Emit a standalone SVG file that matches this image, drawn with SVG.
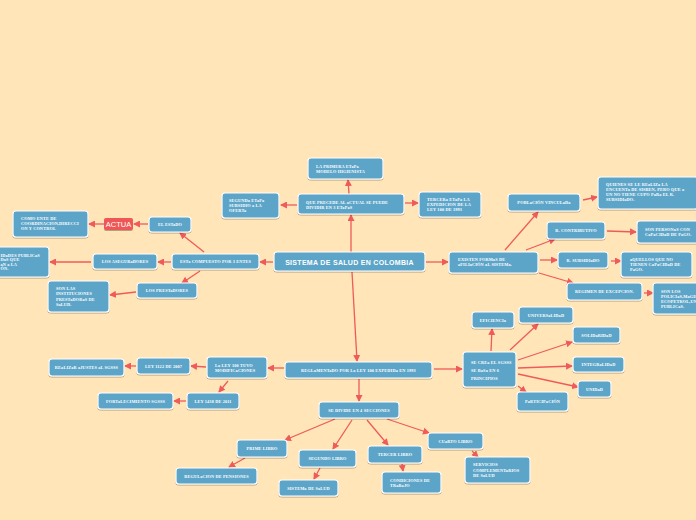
<svg xmlns="http://www.w3.org/2000/svg" width="696" height="520" viewBox="0 0 696 520">
<defs>
<filter id="sh" x="-10%" y="-20%" width="120%" height="150%"><feDropShadow dx="0" dy="1" stdDeviation="0.7" flood-color="#000" flood-opacity="0.3"/></filter>
<marker id="ah" markerWidth="7" markerHeight="7" refX="6" refY="3.5" orient="auto" markerUnits="userSpaceOnUse"><path d="M0,0 L7,3.5 L0,7 z" fill="#ef5a5a"/></marker>
<style>
.n rect{fill:#5ca5c8;stroke:#fff;stroke-width:1.2;filter:url(#sh)}
.n text{font-family:"Liberation Serif","DejaVu Serif",serif;font-weight:bold;font-size:4.3px;fill:#fff;letter-spacing:0.15px}
.c{text-anchor:middle}
#central text{font-family:"Liberation Sans",Arial,sans-serif;font-size:7px;letter-spacing:0.3px}
#actua rect{fill:#ef5656;stroke:none}
#actua text{font-family:"Liberation Sans",Arial,sans-serif;font-weight:normal;font-size:7.5px;letter-spacing:0}
#conn line{stroke:#ef5a5a;stroke-width:1.3;marker-end:url(#ah)}
</style>
</defs>
<rect width="696" height="520" fill="#ffe5b8"/>
<g id="conn">
<line x1="351" y1="252" x2="351" y2="215"/>
<line x1="349" y1="194" x2="348" y2="180"/>
<line x1="297" y1="205" x2="281" y2="205"/>
<line x1="405" y1="203" x2="418" y2="203"/>
<line x1="273" y1="262" x2="260" y2="262"/>
<line x1="204" y1="252" x2="180" y2="233"/>
<line x1="148" y1="224" x2="134" y2="224"/>
<line x1="104" y1="224" x2="89" y2="224"/>
<line x1="171" y1="262" x2="158" y2="262"/>
<line x1="91" y1="262" x2="50" y2="262"/>
<line x1="200" y1="271" x2="182" y2="283"/>
<line x1="136" y1="292" x2="110" y2="295"/>
<line x1="426" y1="262" x2="448" y2="262"/>
<line x1="505" y1="250" x2="538" y2="212"/>
<line x1="583" y1="200" x2="597" y2="197"/>
<line x1="526" y1="250" x2="555" y2="239"/>
<line x1="607" y1="231" x2="636" y2="232"/>
<line x1="540" y1="260" x2="557" y2="260"/>
<line x1="611" y1="261" x2="621" y2="261"/>
<line x1="539" y1="273" x2="573" y2="283"/>
<line x1="644" y1="293" x2="653" y2="293"/>
<line x1="352" y1="272" x2="357" y2="361"/>
<line x1="359" y1="379" x2="359" y2="401"/>
<line x1="284" y1="368" x2="268" y2="368"/>
<line x1="434" y1="369" x2="462" y2="369"/>
<line x1="206" y1="367" x2="191" y2="366"/>
<line x1="136" y1="366" x2="125" y2="366"/>
<line x1="228" y1="381" x2="219" y2="392"/>
<line x1="186" y1="401" x2="174" y2="401"/>
<line x1="335" y1="419" x2="285" y2="440"/>
<line x1="352" y1="420" x2="333" y2="449"/>
<line x1="367" y1="420" x2="388" y2="445"/>
<line x1="387" y1="419" x2="429" y2="433"/>
<line x1="245" y1="458" x2="229" y2="467"/>
<line x1="320" y1="468" x2="314" y2="479"/>
<line x1="402" y1="464" x2="403" y2="471"/>
<line x1="472" y1="451" x2="478" y2="457"/>
<line x1="491" y1="351" x2="492" y2="329"/>
<line x1="510" y1="350" x2="538" y2="324"/>
<line x1="518" y1="360" x2="572" y2="342"/>
<line x1="518" y1="368" x2="572" y2="366"/>
<line x1="518" y1="374" x2="578" y2="387"/>
<line x1="518" y1="386" x2="526" y2="392"/>
</g>
<g id="central" class="n"><rect x="274" y="252" width="151" height="19" rx="3"/><text x="349.5" y="264.5" class="c">SISTEMA DE SALUD EN COLOMBIA</text></g>
<g id="primera" class="n"><rect x="308" y="158" width="75" height="21" rx="3"/><text x="316" y="167.5">LA PRIMERA ETaPa</text><text x="316" y="173">MODELO HIGIENISTA</text></g>
<g id="precede" class="n"><rect x="298" y="194" width="106" height="20" rx="3"/><text x="306" y="203.5">QUE PRECEDE AL aCTUAL SE PUEDE</text><text x="306" y="208.5">DIVIDIR EN 3 ETaPaS</text></g>
<g id="segunda" class="n"><rect x="222" y="193" width="57" height="25" rx="3"/><text x="229" y="201.5">SEGUNDa ETaPa</text><text x="229" y="206.5">SUBSIDIO a LA</text><text x="229" y="211.5">OFERTa</text></g>
<g id="tercera" class="n"><rect x="419" y="192" width="62" height="25" rx="3"/><text x="427" y="200.5">TERCERa ETaPa LA</text><text x="427" y="205.5">EXPEDICION DE LA</text><text x="427" y="210.5">LEY 100 DE 1993</text></g>
<g id="estado" class="n"><rect x="149" y="217" width="42" height="15" rx="3"/><text x="170" y="226" class="c">EL ESTaDO</text></g>
<g id="actua" class="n"><rect x="104" y="218" width="29" height="12" rx="2"/><text x="118.5" y="226.8" class="c">ACTUA</text></g>
<g id="comoente" class="n"><rect x="13" y="211" width="75" height="26" rx="3"/><text x="21" y="219.5">COMO ENTE DE</text><text x="21" y="224.5">COORDINACION,DIRECCI</text><text x="21" y="229.5">ON Y CONTROL</text></g>
<g id="compuesto" class="n"><rect x="172" y="254" width="87" height="15" rx="3"/><text x="215.5" y="263" class="c">ESTa COMPUESTO POR 3 ENTES</text></g>
<g id="aseguradores" class="n"><rect x="93" y="254" width="64" height="15" rx="3"/><text x="125" y="263" class="c">LOS ASEGURaDORES</text></g>
<g id="entidades" class="n"><rect x="-30" y="247" width="79" height="30" rx="3"/><text x="0.5" y="256.5">IDaDES PUBLICaS</text><text x="0.5" y="261">DaS QUE</text><text x="0.5" y="265.5">aN a LA</text><text x="0.5" y="270">ÓN.</text></g>
<g id="prestadores" class="n"><rect x="137" y="283" width="60" height="15" rx="3"/><text x="167" y="292" class="c">LOS  PRESTaDORES</text></g>
<g id="sonlas" class="n"><rect x="48" y="281" width="61" height="31" rx="3"/><text x="56" y="290">SON LAS</text><text x="56" y="295">INSTITUCIONES</text><text x="56" y="300.5">PRESTaDORaS DE</text><text x="56" y="305.5">SaLUD.</text></g>
<g id="existen" class="n"><rect x="449" y="252" width="89" height="21" rx="3"/><text x="458" y="260.5">EXISTEN  FORMaS DE</text><text x="458" y="266">aFILIaCIÓN aL SISTEMa.</text></g>
<g id="vinculada" class="n"><rect x="508" y="194" width="72" height="17" rx="3"/><text x="544" y="204" class="c">POBLaCIÓN VINCULaDa</text></g>
<g id="quienes" class="n"><rect x="598" y="177" width="100" height="32" rx="3"/><text x="606" y="186">QUIENES SE LE REaLIZa LA</text><text x="606" y="191">ENCUENTa DE SISBEN, PERO QUE a</text><text x="606" y="196">UN NO TIENE CUPO PaRa EL R.</text><text x="606" y="201">SUBSIDIaDO.</text></g>
<g id="contributivo" class="n"><rect x="547" y="222" width="58" height="17" rx="3"/><text x="576" y="232" class="c">R. CONTRIBUTIVO</text></g>
<g id="personas" class="n"><rect x="637" y="221" width="62" height="22" rx="3"/><text x="645" y="230.5">SON PERSONaS CON</text><text x="645" y="235.5">CaPaCIDaD DE PaGO.</text></g>
<g id="subsidiado" class="n"><rect x="558" y="252" width="50" height="16" rx="3"/><text x="583" y="261.5" class="c">R. SUBSIDIaDO</text></g>
<g id="aquellos" class="n"><rect x="621" y="252" width="71" height="25" rx="3"/><text x="630" y="260.5">aQUELLOS QUE NO</text><text x="630" y="265.5">TIENEN CaPaCIDaD DE</text><text x="630" y="270.5">PaGO.</text></g>
<g id="regimen" class="n"><rect x="567" y="283" width="75" height="17" rx="3"/><text x="604.5" y="293" class="c">REGIMEN DE EXCEPCION.</text></g>
<g id="sonlos" class="n"><rect x="653" y="283" width="50" height="31" rx="3"/><text x="661" y="292.5">SON LOS</text><text x="661" y="297.5">POLICIaS,MaGISTERIO,</text><text x="661" y="302.5">ECOPETROL,UNIVERSIDaDES</text><text x="661" y="307.5">PUBLICaS.</text></g>
<g id="reglamentado" class="n"><rect x="285" y="362" width="147" height="16" rx="3"/><text x="358.5" y="371.5" class="c">REGLaMENTaDO POR La LEY 100 EXPEDIDa EN 1993</text></g>
<g id="divide" class="n"><rect x="319" y="402" width="80" height="16" rx="3"/><text x="359" y="411.5" class="c">SE DIVIDE EN 4 SECCIONES</text></g>
<g id="ley100" class="n"><rect x="207" y="357" width="60" height="21" rx="3"/><text x="215" y="366.5">La LEY 100 TUVO</text><text x="215" y="371.5">MODIFICaCIONES</text></g>
<g id="ley1122" class="n"><rect x="137" y="358" width="53" height="16" rx="3"/><text x="163.5" y="367.5" class="c">LEY 1122  DE 2007</text></g>
<g id="realizar" class="n"><rect x="49" y="359" width="75" height="17" rx="3"/><text x="86.5" y="369" class="c">REaLIZaR aJUSTES aL SGSSS</text></g>
<g id="ley1438" class="n"><rect x="187" y="393" width="52" height="16" rx="3"/><text x="213" y="402.5" class="c">LEY 1438 DE 2011</text></g>
<g id="fortalecimiento" class="n"><rect x="98" y="393" width="75" height="16" rx="3"/><text x="135.5" y="402.5" class="c">FORTaLECIMIENTO SGSSS</text></g>
<g id="prime" class="n"><rect x="237" y="440" width="50" height="17" rx="3"/><text x="262" y="450" class="c">PRIME LIBRO</text></g>
<g id="regulacion" class="n"><rect x="176" y="468" width="81" height="16" rx="3"/><text x="216.5" y="477.5" class="c">REGULaCION DE PENSIONES</text></g>
<g id="segundo" class="n"><rect x="299" y="450" width="57" height="17" rx="3"/><text x="327.5" y="460" class="c">SEGUNDO LIBRO</text></g>
<g id="sistemasalud" class="n"><rect x="279" y="480" width="59" height="16" rx="3"/><text x="308.5" y="489.5" class="c">SISTEMa DE SaLUD</text></g>
<g id="tercer" class="n"><rect x="368" y="446" width="54" height="17" rx="3"/><text x="395" y="456" class="c">TERCER LIBRO</text></g>
<g id="condiciones" class="n"><rect x="382" y="472" width="59" height="21" rx="3"/><text x="390" y="482">CONDICIONES DE</text><text x="390" y="487">TRaBaJO</text></g>
<g id="cuarto" class="n"><rect x="428" y="433" width="55" height="16" rx="3"/><text x="455.5" y="442.5" class="c">CUaRTO LIBRO</text></g>
<g id="servicios" class="n"><rect x="465" y="457" width="65" height="26" rx="3"/><text x="473" y="466">SERVICIOS</text><text x="473" y="471.5">COMPLEMENTaRIOS</text><text x="473" y="477">DE SaLUD</text></g>
<g id="secrea" class="n"><rect x="463" y="352" width="53" height="35" rx="3"/><text x="471" y="363.5">SE CREa EL SGSSS</text><text x="471" y="371.5">SE BaSa EN 6</text><text x="471" y="379.5">PRINCIPIOS</text></g>
<g id="eficiencia" class="n"><rect x="472" y="312" width="42" height="16" rx="3"/><text x="493" y="321.5" class="c">EFICIENCIa</text></g>
<g id="universalidad" class="n"><rect x="519" y="307" width="54" height="16" rx="3"/><text x="546" y="316.5" class="c">UNIVERSaLIDaD</text></g>
<g id="solidaridad" class="n"><rect x="573" y="327" width="47" height="16" rx="3"/><text x="596.5" y="336.5" class="c">SOLIDaRIDaD</text></g>
<g id="integralidad" class="n"><rect x="573" y="357" width="51" height="15" rx="3"/><text x="598.5" y="366" class="c">INTEGRaLIDaD</text></g>
<g id="unidad" class="n"><rect x="578" y="381" width="33" height="16" rx="3"/><text x="594.5" y="390.5" class="c">UNIDaD</text></g>
<g id="participacion" class="n"><rect x="517" y="392" width="51" height="19" rx="3"/><text x="542.5" y="403" class="c">PaRTICIPaCIÓN</text></g>
</svg>
